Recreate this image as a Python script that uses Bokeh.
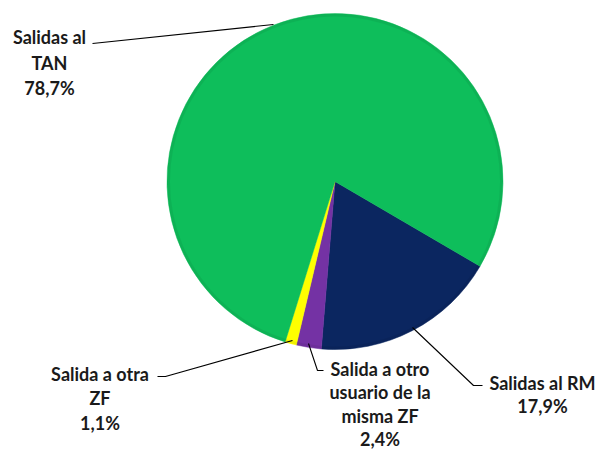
import math
from bokeh.plotting import figure
from bokeh.models import Range1d, ColumnDataSource
from bokeh.core.properties import value
from bokeh.embed import file_html
from bokeh.resources import INLINE

# ---- data (clockwise order, as drawn) ----
categories = ["Salidas al RM", "Salida a otro usuario de la misma ZF", "Salida a otra ZF", "Salidas al TAN"]
label_lines = [["Salidas al RM"], ["Salida a otro", "usuario de la", "misma ZF"], ["Salida a otra", "ZF"], ["Salidas al", "TAN"]]
shares = [17.9, 2.4, 1.1, 78.7]
colors = ["#0B2660", "#7432A4", "#FFFF00", "#0EBE5B"]

# ---- layout ----
W, H = 600, 450
def sy(y):  # screen y (reference pixel) -> data y
    return H - y

p = figure(width=W, height=H, output_backend="svg", toolbar_location=None,
           x_range=Range1d(0, W), y_range=Range1d(0, H),
           min_border=0, outline_line_color=None)
p.axis.visible = False
p.grid.visible = False
p.background_fill_color = "white"
p.border_fill_color = "white"

cx, cy, r = 334.5, sy(181), 168
start0 = math.radians(-30.3)
total = sum(shares)
starts, ends = [], []
a = start0
for s in shares:
    starts.append(a)
    a -= s / total * 2 * math.pi
    ends.append(a)

src = ColumnDataSource(dict(start=starts, end=ends, color=colors, cat=categories))
p.wedge(x=cx, y=cy, radius=r, start_angle="start", end_angle="end", direction="clock",
        fill_color="color", line_color="color", line_width=0.5, source=src)

# subtle rim shading
p.annulus(x=cx, y=cy, inner_radius=r - 3, outer_radius=r, fill_color="black", fill_alpha=0.06, line_color=None)

# leader lines (screen coords of the reference)
leaders = [
    [(412, 327), (473, 385), (482, 385)],
    [(308, 343), (317, 370), (323, 370)],
    [(292, 340), (165, 376), (157, 376)],
    [(273, 24), (92, 43)],
]
p.multi_line(xs=[[q[0] for q in L] for L in leaders], ys=[[sy(q[1]) for q in L] for L in leaders],
             line_color="black", line_width=1.1)

# labels
label_pos = [(542, 382, 23.5), (379.5, 368, 23.5), (99.5, 373, 24.5), (49, 36.5, 25.5)]
tx, ty, tt = [], [], []
for lines, s, (x0, y0, dy) in zip(label_lines, shares, label_pos):
    allines = lines + [f"{s:.1f}".replace(".", ",") + "%"]
    for i, t in enumerate(allines):
        tx.append(x0)
        ty.append(sy(y0 + i * dy))
        tt.append(t)
p.text(x=tx, y=ty, text=tt, text_align="center", text_baseline="middle",
       text_font=value("Lato"), text_font_style="bold", text_font_size="18px", text_color="#1a1a1a")

open("out.html", "w").write(file_html(p, INLINE))
